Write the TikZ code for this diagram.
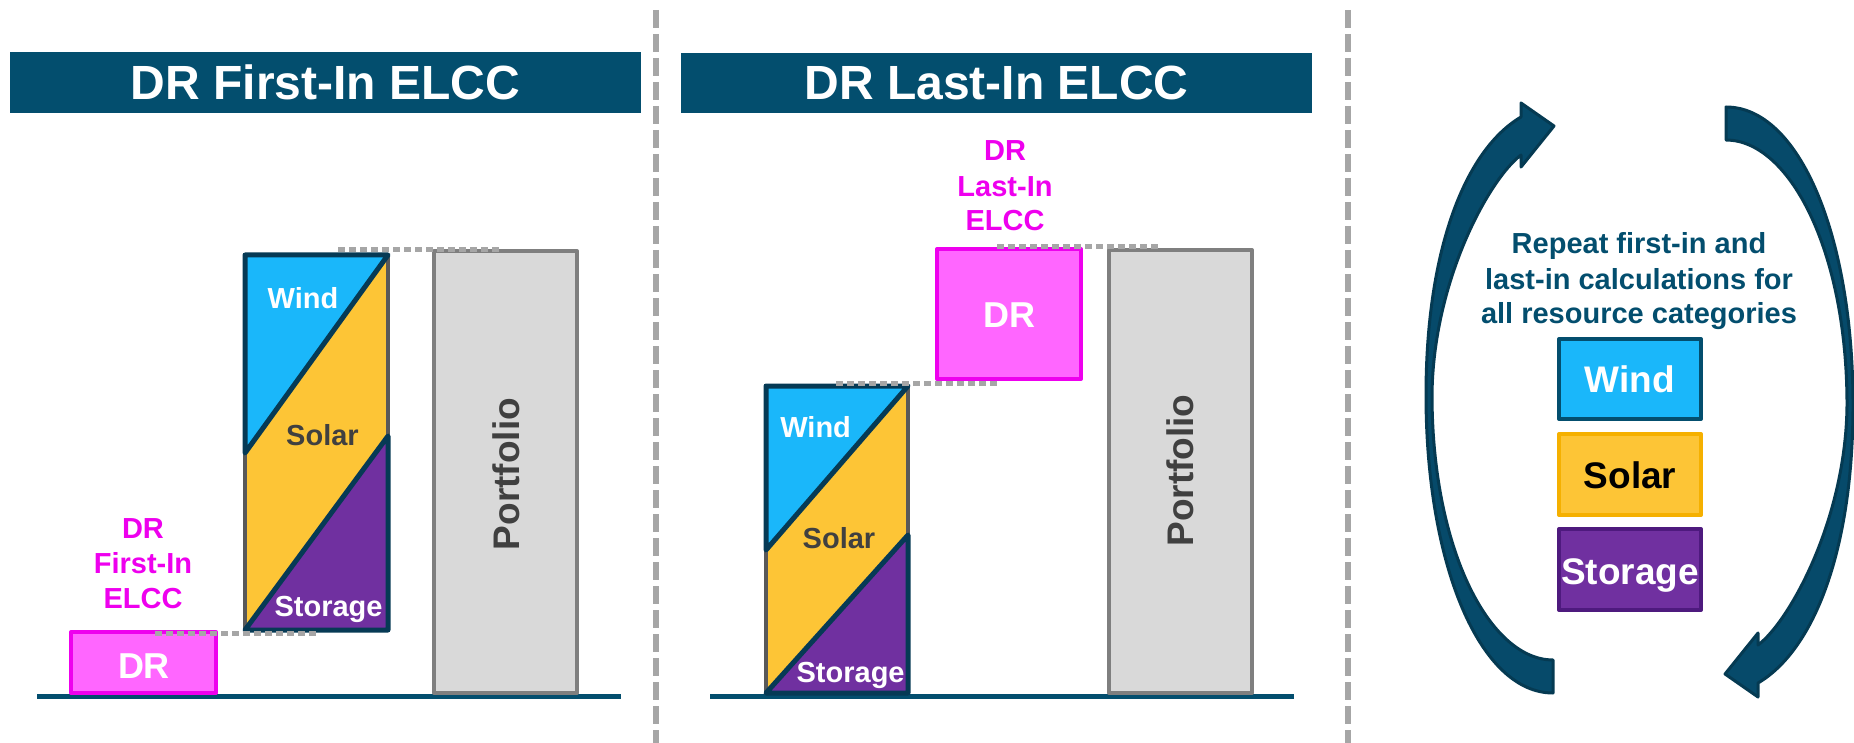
\documentclass[tikz,border=0pt]{standalone}
\usepackage{fontspec}
\setmainfont{Liberation Sans}
\definecolor{cTitle}{HTML}{034E6E}
\definecolor{cNavy}{HTML}{063A55}
\definecolor{cGrayBar}{HTML}{595959}
\definecolor{cWind}{HTML}{1AB7FA}
\definecolor{cSolar}{HTML}{FDC536}
\definecolor{cSolarB}{HTML}{F5B000}
\definecolor{cStor}{HTML}{7030A0}
\definecolor{cStorB}{HTML}{4E1A7E}
\definecolor{cMagF}{HTML}{FF66FF}
\definecolor{cMagB}{HTML}{EE00EE}
\definecolor{cPortF}{HTML}{D9D9D9}
\definecolor{cPortB}{HTML}{7F7F7F}
\definecolor{cDot}{HTML}{A6A6A6}
\definecolor{cText}{HTML}{404040}
\definecolor{cArrow}{HTML}{064A6A}
\definecolor{cArrowB}{HTML}{053A52}
\begin{document}
\begin{tikzpicture}[x=1pt,y=-1pt,line join=round,
  divider/.style={draw=cDot,line width=6,dash pattern=on 18 off 6},
  titlebar/.style={fill=cTitle},
  titletext/.style={font=\bfseries\fontsize{48}{58}\selectfont,text=white,anchor=base,inner sep=0pt},
  ground/.style={draw=cTitle,line width=5},
  portbar/.style={fill=cPortF,draw=cPortB,line width=4},
  porttext/.style={font=\bfseries\fontsize{37}{44}\selectfont,text=cText,anchor=base,inner sep=0pt,rotate=90},
  solarpart/.style={fill=cSolar,draw=cGrayBar,line width=4},
  windpart/.style={fill=cWind,draw=cNavy,line width=5},
  storpart/.style={fill=cStor,draw=cNavy,line width=5},
  barlbl/.style={font=\bfseries\fontsize{29}{35}\selectfont,anchor=base,inner sep=0pt},
  drbox/.style={fill=cMagF,draw=cMagB,line width=4},
  drtext/.style={font=\bfseries\fontsize{36}{43}\selectfont,text=white,anchor=base,inner sep=0pt},
  maglbl/.style={font=\bfseries\fontsize{29}{35}\selectfont,text=cMagB,anchor=base,inner sep=0pt},
  dotline/.style={draw=cDot,line width=5,dash pattern=on 7 off 4},
  rtext/.style={font=\bfseries\fontsize{29}{35}\selectfont,text=cTitle,anchor=base,inner sep=0pt},
  rbox/.style={line width=4},
  rlbl/.style={font=\bfseries\fontsize{37}{44}\selectfont,anchor=base,inner sep=0pt},
  cyclearr/.style={fill=cArrow,draw=cArrowB,line width=3}]
\useasboundingbox (0,0) rectangle (1854,743);

% dividers
\coordinate (d1a) at (656,10); \coordinate (d1b) at (656,743);
\coordinate (d2a) at (1348,10); \coordinate (d2b) at (1348,743);
\draw[divider] (d1a) -- (d1b);
\draw[divider] (d2a) -- (d2b);

% ===== Panel 1 =====
\path[titlebar] (10,52) rectangle (641,113);
\node[titletext] (title1) at (325.5,99.5) {DR First-In ELCC};
\coordinate (g1a) at (37,696); \coordinate (g1b) at (621,696);
\draw[ground] (g1a) -- (g1b);

\draw[portbar] (434,251) rectangle (577,693);
\node[porttext] (port1) at (519,474) {Portfolio};

\draw[drbox] (71,632) rectangle (216,693);
\node[drtext] (dr1) at (144,678) {DR};
\node[maglbl] (m1a) at (143,538) {DR};
\node[maglbl] (m1b) at (143,573.5) {First-In};
\node[maglbl] (m1c) at (143,608) {ELCC};

\draw[solarpart] (245,255) rectangle (388,630);
\draw[windpart] (245,255) -- (388,255) -- (245,453) -- cycle;
\draw[storpart] (245,630) -- (388,630) -- (388,436) -- cycle;
\node[barlbl,text=white] (w1) at (303,308) {Wind};
\node[barlbl,text=cText] (s1) at (322.5,445.5) {Solar};
\node[barlbl,text=white] (st1) at (328.6,616) {Storage};

\coordinate (p1a) at (155,633); \coordinate (p1b) at (316,633);
\coordinate (p1c) at (338,250); \coordinate (p1d) at (499,250);
\draw[dotline] (p1a) -- (p1b);
\draw[dotline] (p1c) -- (p1d);

% ===== Panel 2 =====
\path[titlebar] (681,53) rectangle (1312,113);
\node[titletext] (title2) at (996.5,99.5) {DR Last-In ELCC};
\coordinate (g2a) at (710,696); \coordinate (g2b) at (1294,696);
\draw[ground] (g2a) -- (g2b);

\draw[portbar] (1109,250) rectangle (1252,693);
\node[porttext] (port2) at (1193,470.5) {Portfolio};

\draw[drbox] (937,249) rectangle (1081,379);
\node[drtext] (dr2) at (1009.5,327) {DR};
\node[maglbl] (m2a) at (1005,161) {DR};
\node[maglbl] (m2b) at (1005,196.5) {Last-In};
\node[maglbl] (m2c) at (1005,231) {ELCC};

\draw[solarpart] (766,386) rectangle (908,693);
\draw[windpart] (766,386) -- (908,386) -- (766,550) -- cycle;
\draw[storpart] (766,693) -- (908,693) -- (908,535) -- cycle;
\node[barlbl,text=white] (w2) at (815.6,437) {Wind};
\node[barlbl,text=cText] (s2) at (839,548) {Solar};
\node[barlbl,text=white] (st2) at (850.6,682.5) {Storage};

\coordinate (p2a) at (836,383); \coordinate (p2b) at (998,383);
\coordinate (p2c) at (997,246.5); \coordinate (p2d) at (1158,246.5);
\draw[dotline] (p2a) -- (p2b);
\draw[dotline] (p2c) -- (p2d);

% ===== Right panel =====
\node[rtext] (r1) at (1639,254) {Repeat first-in and};
\node[rtext] (r2) at (1639,289) {last-in calculations for};
\node[rtext] (r3) at (1639,323.5) {all resource categories};

\draw[rbox,fill=cWind,draw=cTitle] (1559,339) rectangle (1701,419);
\draw[rbox,fill=cSolar,draw=cSolarB] (1559,434) rectangle (1701,515);
\draw[rbox,fill=cStor,draw=cStorB] (1559,529) rectangle (1701,610);
\node[rlbl,text=white] (bw) at (1630,392) {Wind};
\node[rlbl,text=black] (bs) at (1630,488) {Solar};
\node[rlbl,text=white] (bst) at (1630,584) {Storage};

\path[cyclearr] (1553,693) .. controls (1480,693) and (1426,565) .. (1426,395)
  .. controls (1426,250) and (1465,150) .. (1521,117) -- (1521,103) -- (1554,126)
  -- (1521,167) -- (1521,155) .. controls (1490,178) and (1433,280) .. (1432,395)
  .. controls (1432,550) and (1490,660) .. (1553,660) -- cycle;
\begin{scope}[rotate around={180:(1639.5,400)}]
\path[cyclearr] (1553,693) .. controls (1480,693) and (1426,565) .. (1426,395)
  .. controls (1426,250) and (1465,150) .. (1521,117) -- (1521,103) -- (1554,126)
  -- (1521,167) -- (1521,155) .. controls (1490,178) and (1433,280) .. (1432,395)
  .. controls (1432,550) and (1490,660) .. (1553,660) -- cycle;
\end{scope}
\end{tikzpicture}
\end{document}
